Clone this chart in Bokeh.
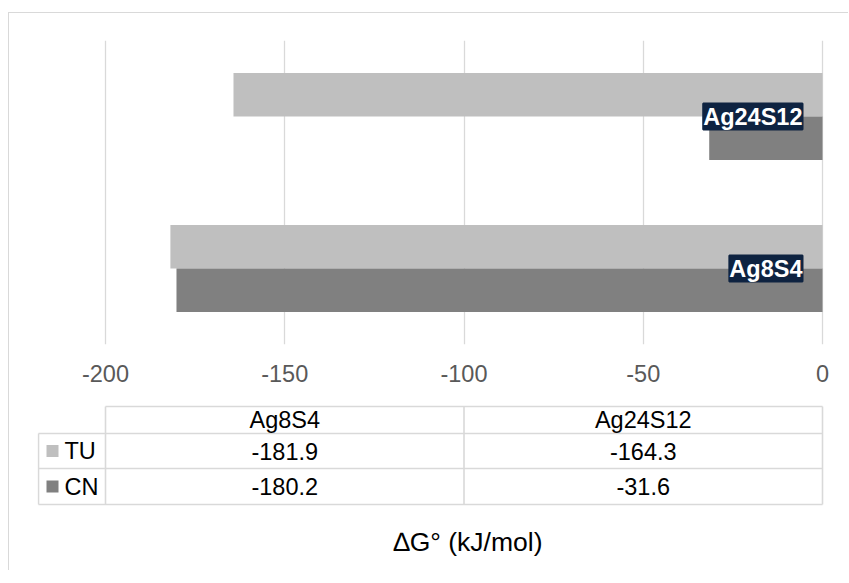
from bokeh.plotting import figure
from bokeh.layouts import column
from bokeh.models import Range1d, FactorRange, FixedTicker, LabelSet, ColumnDataSource
from bokeh.transform import dodge
from bokeh.embed import file_html
from bokeh.resources import INLINE
from bokeh.core.properties import value

# ---- data ----
categories = ["Ag8S4", "Ag24S12"]
series = ["TU", "CN"]
tu_values = [-181.9, -164.3]
cn_values = [-180.2, -31.6]
x_ticks = [-200, -150, -100, -50, 0]
x_tick_labels = ["-200", "-150", "-100", "-50", "0"]
axis_title = "\u2206G\u00b0 (kJ/mol)"

# ---- styles ----
colors = {"TU": "#bfbfbf", "CN": "#808080"}
FONT = "Liberation Sans"
GRID = "#d9d9d9"
PX = 3.585  # px per data unit
FS = "23.5px"
W = 839
MBL = 28
MBR = W - 817

xr = Range1d(-200 - 68 / PX, 4 / PX)

src = ColumnDataSource(dict(cat=categories, TU=tu_values, CN=cn_values, zero=[0] * len(categories)))

pA = figure(width=W, height=387, output_backend="svg", toolbar_location=None,
            x_range=xr,
            y_range=FactorRange(factors=categories, range_padding=0),
            min_border_left=MBL, min_border_right=MBR, min_border_top=27, min_border_bottom=56,
            y_axis_location=None, outline_line_color=None, tools="")
pA.hbar(y=dodge("cat", 0.143, range=pA.y_range), right="TU", left=0, height=0.286,
        source=src, fill_color=colors["TU"], line_color=None)
pA.hbar(y=dodge("cat", -0.143, range=pA.y_range), right="CN", left=0, height=0.286,
        source=src, fill_color=colors["CN"], line_color=None)

pA.ygrid.visible = False
pA.xgrid.ticker = FixedTicker(ticks=x_ticks)
pA.xgrid.grid_line_color = GRID
pA.xgrid.grid_line_width = 1.3
ax = pA.xaxis[0]
ax.ticker = FixedTicker(ticks=x_ticks)
ax.major_label_overrides = {t: l for t, l in zip(x_ticks, x_tick_labels)}
ax.axis_line_color = None
ax.major_tick_line_color = None
ax.minor_tick_line_color = None
ax.major_label_text_font = FONT
ax.major_label_text_font_size = FS
ax.major_label_text_color = "#595959"
ax.major_label_standoff = 14

labels = LabelSet(x="zero", y="cat", text="cat", source=src, x_offset=-20,
                  text_align="right", text_baseline="middle", text_color="white",
                  text_font=value(FONT), text_font_style="bold", text_font_size=FS,
                  background_fill_color="#0e2341",
                  border_line_color="#0e2341", border_line_width=2)
pA.add_layout(labels)

# ---- data table below ----
legend_left = -200 - 67 / PX
pB = figure(width=W, height=170, output_backend="svg", toolbar_location=None,
            x_range=xr, y_range=Range1d(170, 0),
            min_border_left=MBL, min_border_right=MBR, min_border_top=0, min_border_bottom=0,
            x_axis_location=None, y_axis_location=None, outline_line_color=None, tools="")
pB.grid.visible = False

row_top, row_h1, row_h2, row_h3 = 6, 33, 68, 104
col_edges = [-200, -100, 0]
x0s = [-200, legend_left, legend_left, legend_left] + [legend_left] + col_edges
x1s = [0, 0, 0, 0] + [legend_left] + col_edges
y0s = [row_top, row_h1, row_h2, row_h3] + [row_h1] + [row_top] * len(col_edges)
y1s = [row_top, row_h1, row_h2, row_h3] + [row_h3] + [row_h3] * len(col_edges)
pB.segment(x0=x0s, y0=y0s, x1=x1s, y1=y1s, line_color=GRID, line_width=1.6)

col_centers = [(col_edges[i] + col_edges[i + 1]) / 2 for i in range(len(categories))]
hdr_y = (row_top + row_h1) / 2
tu_y = (row_h1 + row_h2) / 2
cn_y = (row_h2 + row_h3) / 2
txt = dict(text_align="center", text_baseline="middle", text_font=value(FONT),
           text_font_size=FS, text_color="#000000")
pB.text(x=col_centers, y=[hdr_y] * len(categories), text=categories, **txt)
pB.text(x=col_centers, y=[tu_y] * len(categories), text=[f"{v:.1f}" for v in tu_values], **txt)
pB.text(x=col_centers, y=[cn_y] * len(categories), text=[f"{v:.1f}" for v in cn_values], **txt)

key_x = -200 - 53 / PX
lab_x = -200 - 41 / PX
pB.scatter(x=[key_x, key_x], y=[tu_y, cn_y], marker="square", size=12,
           fill_color=[colors[s] for s in series], line_color=None)
pB.text(x=[lab_x, lab_x], y=[tu_y, cn_y], text=series, text_align="left", text_baseline="middle",
        text_font=value(FONT), text_font_size=FS, text_color="#000000")

pB.text(x=[-100], y=[141], x_offset=4, text=[axis_title], text_align="center", text_baseline="middle",
        text_font=value(FONT), text_font_size="26.5px", text_color="#000000")

layout = column(pA, pB, styles={"border-top": "1px solid #d9d9d9", "border-left": "1px solid #d9d9d9",
                                "margin-top": "12px", "margin-left": "8px"})
open("out.html", "w").write(file_html(layout, INLINE))
